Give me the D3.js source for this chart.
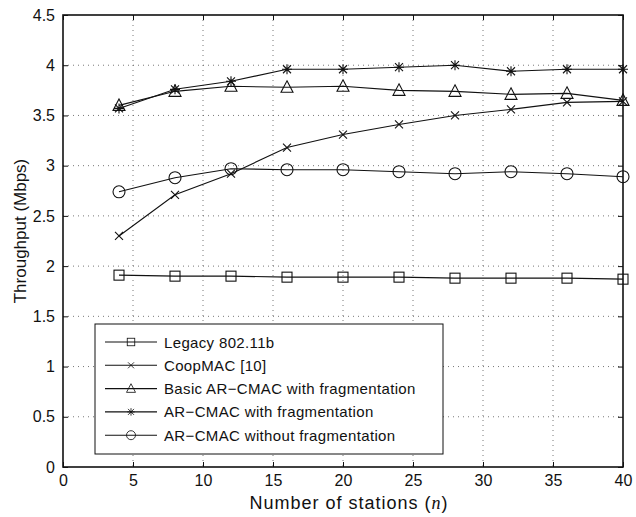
<!DOCTYPE html>
<html lang="en">
<head>
  <meta charset="UTF-8" />
  <title>Throughput vs number of stations</title>
  <style>
    body { margin: 0; background: #fff; }
    svg { display: block; font-family: "Liberation Sans", Arial, sans-serif; }
    .grid line { stroke: #555; stroke-width: 0.8; stroke-dasharray: 1 4; }
    .tick text { font-size: 16px; fill: #111; }
    .series path { fill: none; stroke: #111; stroke-width: 1.1; }
    .marker { fill: none; stroke: #111; stroke-width: 1.1; }
  </style>
</head>
<body>
  <svg width="636" height="517"></svg>
  <script src="https://d3js.org/d3.v7.min.js"></script>
  <script>
    const stations = [4, 8, 12, 16, 20, 24, 28, 32, 36, 40];
    const legacy = [1.91, 1.90, 1.90, 1.89, 1.89, 1.89, 1.88, 1.88, 1.88, 1.87];
    const coopmac = [2.30, 2.71, 2.92, 3.18, 3.31, 3.41, 3.50, 3.56, 3.63, 3.64];
    const basicFrag = [3.60, 3.74, 3.79, 3.78, 3.79, 3.75, 3.74, 3.71, 3.72, 3.65];
    const arFrag = [3.57, 3.76, 3.84, 3.96, 3.96, 3.98, 4.00, 3.94, 3.96, 3.96];
    const arNoFrag = [2.74, 2.88, 2.97, 2.96, 2.96, 2.94, 2.92, 2.94, 2.92, 2.89];

    const xTicks = [0, 5, 10, 15, 20, 25, 30, 35, 40];
    const yTicks = [0, 0.5, 1, 1.5, 2, 2.5, 3, 3.5, 4, 4.5];

    const series = [
      { name: "Legacy 802.11b", values: legacy, marker: "square" },
      { name: "CoopMAC [10]", values: coopmac, marker: "cross" },
      { name: "Basic AR\u2212CMAC with fragmentation", values: basicFrag, marker: "triangle" },
      { name: "AR\u2212CMAC with fragmentation", values: arFrag, marker: "star" },
      { name: "AR\u2212CMAC without fragmentation", values: arNoFrag, marker: "circle" }
    ];

    const svg = d3.select("svg");
    const mLeft = 63, mRight = 623, mTop = 15, mBottom = 467;

    const x = d3.scaleLinear().domain([0, 40]).range([mLeft, mRight]);
    const y = d3.scaleLinear().domain([0, 4.5]).range([mBottom, mTop]);

    // dotted grid
    const grid = svg.append("g").attr("class", "grid");
    grid.selectAll(".gx").data(xTicks.slice(1, -1)).enter().append("line")
      .attr("x1", d => x(d)).attr("x2", d => x(d))
      .attr("y1", mTop).attr("y2", mBottom);
    grid.selectAll(".gy").data(yTicks.slice(1, -1)).enter().append("line")
      .attr("x1", mLeft).attr("x2", mRight)
      .attr("y1", d => y(d)).attr("y2", d => y(d));

    // axes with inward ticks
    const fmt = d3.format("");
    svg.append("g").attr("transform", `translate(0,${mBottom})`)
      .call(d3.axisBottom(x).tickValues(xTicks).tickSize(-5).tickPadding(8).tickFormat(fmt))
      .call(g => g.select(".domain").remove());
    svg.append("g").attr("transform", `translate(0,${mTop})`)
      .call(d3.axisTop(x).tickValues(xTicks).tickSize(-5).tickFormat(""))
      .call(g => g.select(".domain").remove());
    svg.append("g").attr("transform", `translate(${mLeft},0)`)
      .call(d3.axisLeft(y).tickValues(yTicks).tickSize(-5).tickPadding(8).tickFormat(fmt))
      .call(g => g.select(".domain").remove());
    svg.append("g").attr("transform", `translate(${mRight},0)`)
      .call(d3.axisRight(y).tickValues(yTicks).tickSize(-5).tickFormat(""))
      .call(g => g.select(".domain").remove());
    svg.selectAll(".tick line").attr("stroke", "#111");

    svg.append("rect")
      .attr("x", mLeft).attr("y", mTop)
      .attr("width", mRight - mLeft).attr("height", mBottom - mTop)
      .attr("fill", "none").attr("stroke", "#111").attr("stroke-width", 1.6);

    function drawMarker(g, type) {
      if (type === "square") {
        g.append("rect").attr("class", "marker").attr("x", -5).attr("y", -5).attr("width", 10).attr("height", 10);
      } else if (type === "circle") {
        g.append("circle").attr("class", "marker").attr("r", 6);
      } else if (type === "triangle") {
        g.append("path").attr("class", "marker").attr("d", "M0,-6.5L6,5L-6,5Z");
      } else if (type === "cross") {
        g.append("path").attr("class", "marker").attr("d", "M-4,-4L4,4M-4,4L4,-4");
      } else if (type === "star") {
        g.append("path").attr("class", "marker")
          .attr("d", "M-5,0L5,0M0,-5L0,5M-4,-4L4,4M-4,4L4,-4")
          .attr("stroke-width", 1.5);
      }
    }

    const line = d3.line().x((d, i) => x(stations[i])).y(d => y(d));
    series.forEach(s => {
      const g = svg.append("g").attr("class", "series");
      g.append("path").attr("d", line(s.values));
      s.values.forEach((v, i) => {
        drawMarker(g.append("g").attr("transform", `translate(${x(stations[i])},${y(v)})`), s.marker);
      });
    });

    // legend
    const legend = svg.append("g");
    legend.append("rect")
      .attr("x", 95).attr("y", 324).attr("width", 348).attr("height", 130)
      .attr("fill", "#fff").attr("stroke", "#111").attr("stroke-width", 1);
    series.forEach((s, i) => {
      const ly = 342 + i * 23.3;
      const row = legend.append("g").attr("class", "series");
      row.append("path").attr("d", `M105,${ly}L157,${ly}`);
      drawMarker(row.append("g").attr("transform", `translate(131,${ly}) scale(0.75)`), s.marker);
      row.append("text").attr("x", 164).attr("y", ly + 5.5)
        .attr("font-size", 15).attr("letter-spacing", 0.35).attr("fill", "#111").text(s.name);
    });

    // axis titles
    const title = svg.append("text")
      .attr("x", 349).attr("y", 509)
      .attr("text-anchor", "middle").attr("font-size", 18).attr("letter-spacing", 1)
      .attr("fill", "#111");
    title.append("tspan").text("Number of stations (");
    title.append("tspan").attr("font-family", "'Liberation Serif', serif").attr("font-style", "italic").text("n");
    title.append("tspan").text(")");

    svg.append("text")
      .attr("transform", `translate(26,231) rotate(-90)`)
      .attr("text-anchor", "middle").attr("font-size", 17).attr("fill", "#111")
      .text("Throughput (Mbps)");
  </script>
</body>
</html>
